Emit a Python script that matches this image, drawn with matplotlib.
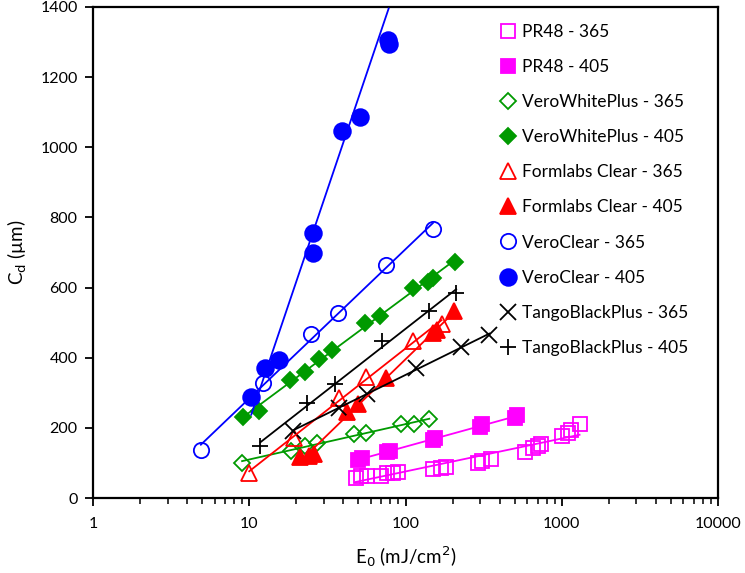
import numpy as np
import matplotlib
matplotlib.use("Agg")
import matplotlib.pyplot as plt

plt.rcParams['font.family'] = ['Lato', 'DejaVu Sans']

# E0 (mJ/cm2) and Cd (um)
pr48_365_x = [48, 52, 57, 70, 76, 83, 90, 150, 168, 182, 290, 310, 350, 580, 650, 700, 740, 1000, 1100, 1150, 1300]
pr48_365_y = [58, 62, 64, 64, 70, 72, 75, 82, 85, 88, 100, 105, 112, 130, 142, 148, 155, 178, 185, 195, 210]
pr48_405_x = [50, 53, 76, 80, 150, 155, 300, 310, 500, 520]
pr48_405_y = [108, 115, 130, 135, 165, 172, 203, 210, 228, 238]
vwp_365_x = [9.0, 18.4, 22.9, 27.3, 47, 56, 93, 114, 142]
vwp_365_y = [101, 135, 148, 158, 182, 184, 211, 211, 224]
vwp_405_x = [9.1, 11.5, 18.2, 22.8, 27.8, 34, 55, 69, 111, 140, 150, 207]
vwp_405_y = [231, 248, 337, 360, 396, 422, 498, 519, 598, 615, 628, 674]
fc_365_x = [10.0, 19.3, 37.5, 55.5, 112, 170]
fc_365_y = [71, 172, 286, 345, 447, 496]
fc_405_x = [21, 24, 26, 42, 50, 75, 150, 160, 205]
fc_405_y = [118, 120, 125, 245, 268, 342, 470, 480, 532]
vc_365_x = [4.9, 12.3, 24.7, 37, 75, 150]
vc_365_y = [137, 327, 468, 527, 665, 767]
vc_405_x = [10.3, 12.7, 15.5, 25.7, 25.7, 39, 51, 77, 78]
vc_405_y = [289, 370, 393, 699, 756, 1046, 1085, 1305, 1295]
tbp_365_x = [19, 37.5, 56.5, 117, 227, 344]
tbp_365_y = [192, 256, 296, 370, 431, 465]
tbp_405_x = [11.8, 23.5, 35.2, 71, 142, 211]
tbp_405_y = [147, 270, 326, 448, 532, 585]

# VeroClear 405 trendline as drawn in the chart (Cd = Dp * ln(E0 / Ec))
vc_405_dp = 572
vc_405_ec = 6.8

series = [
    ("PR48 - 365", pr48_365_x, pr48_365_y, "#FF00FF", "s", False, 10),
    ("PR48 - 405", pr48_405_x, pr48_405_y, "#FF00FF", "s", True, 10),
    ("VeroWhitePlus - 365", vwp_365_x, vwp_365_y, "#009A00", "D", False, 8),
    ("VeroWhitePlus - 405", vwp_405_x, vwp_405_y, "#009A00", "D", True, 8),
    ("Formlabs Clear - 365", fc_365_x, fc_365_y, "#FF0000", "^", False, 11),
    ("Formlabs Clear - 405", fc_405_x, fc_405_y, "#FF0000", "^", True, 11),
    ("VeroClear - 365", vc_365_x, vc_365_y, "#0000FF", "o", False, 11),
    ("VeroClear - 405", vc_405_x, vc_405_y, "#0000FF", "o", True, 12),
    ("TangoBlackPlus - 365", tbp_365_x, tbp_365_y, "black", "x", False, 11),
    ("TangoBlackPlus - 405", tbp_405_x, tbp_405_y, "black", "+", False, 12),
]

fig = plt.figure(figsize=(7.45, 5.73), dpi=100)
ax = fig.add_axes([93 / 745, 75 / 573, 625 / 745, 491 / 573])

for name, x, y, col, mk, filled, ms in series:
    x = np.array(x, dtype=float)
    y = np.array(y, dtype=float)
    ax.plot(x, y, ls='none', marker=mk, ms=ms, mec=col,
            mfc=col if filled else 'none', mew=1.3, label=name, zorder=2)
    # log trendline over the data range
    xs = np.geomspace(x.min(), x.max(), 50)
    if name == "VeroClear - 405":
        ys = vc_405_dp * np.log(xs / vc_405_ec)
    else:
        k, b = np.polyfit(np.log10(x), y, 1)
        ys = k * np.log10(xs) + b
    ax.plot(xs, ys, color=col, lw=1.3, zorder=3)

ax.set_xscale('log')
ax.set_xlim(1, 10000)
ax.set_ylim(0, 1400)
ax.set_yticks(range(0, 1401, 200))
ax.set_xticks([1, 10, 100, 1000, 10000])
ax.set_xticklabels(['1', '10', '100', '1000', '10000'])
ax.tick_params(axis='both', which='major', direction='out', length=6, width=1.3,
               labelsize=11.5, pad=8)
ax.tick_params(axis='y', which='major', pad=5)
ax.tick_params(axis='x', which='minor', direction='out', length=4, width=1.1)
for s in ax.spines.values():
    s.set_linewidth(1.6)

ax.set_xlabel('E$_0$ (mJ/cm$^2$)', fontsize=13.5, labelpad=9)
ax.set_ylabel('C$_\\mathrm{d}$ (µm)', fontsize=13.5, labelpad=8)

fig.legend(loc='upper left', bbox_to_anchor=(492 / 745, 1 - 17 / 573),
           frameon=False, fontsize=12.5, handlelength=1.0, handletextpad=0.35,
           labelspacing=1.1, borderaxespad=0)

fig.savefig('out.png', dpi=100)
